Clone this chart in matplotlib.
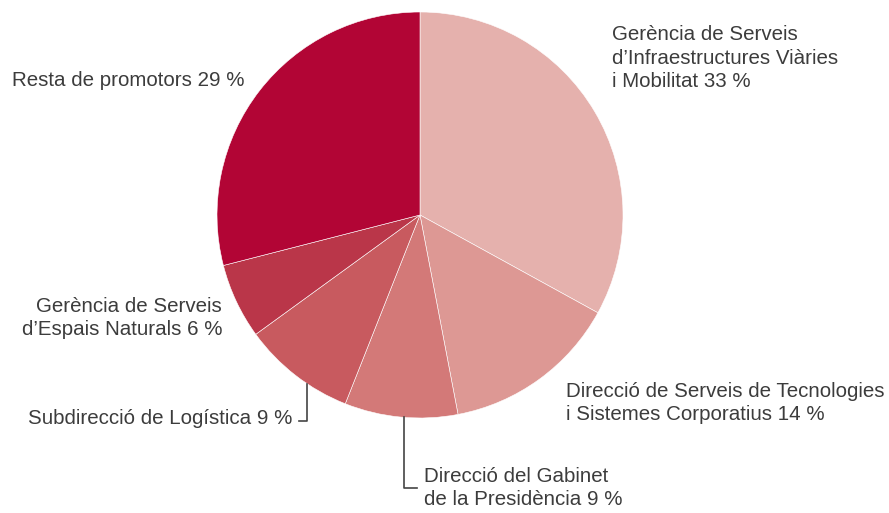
import matplotlib.pyplot as plt

# Data
labels = [
    "Gerència de Serveis\nd\u2019Infraestructures Viàries\ni Mobilitat 33 %",
    "Direcció de Serveis de Tecnologies\ni Sistemes Corporatius 14 %",
    "Direcció del Gabinet\nde la Presidència 9 %",
    "Subdirecció de Logística 9 %",
    "Gerència de Serveis\nd\u2019Espais Naturals 6 %",
    "Resta de promotors 29 %",
]
values = [33, 14, 9, 9, 6, 29]
colors = ["#E5B1AD", "#DD9894", "#D37978", "#C85A5F", "#BA3649", "#B20535"]

W, H = 889, 513
fig = plt.figure(figsize=(W / 100, H / 100), dpi=100)
ax = fig.add_axes([0, 0, 1, 1])

cx, cy, r = 420, H - 215, 203
ax.pie(values, colors=colors, startangle=90, counterclock=False,
       center=(cx, cy), radius=r, frame=True,
       wedgeprops=dict(edgecolor="white", linewidth=0.4))
ax.set_xlim(0, W)
ax.set_ylim(0, H)
ax.set_aspect("equal")
ax.axis("off")

tc = "#3c3c3c"
fs = 14.8
kw = dict(fontsize=fs, color=tc, family="Liberation Sans", linespacing=1.3)

def y(p):
    return H - p

ax.text(612, y(58), labels[0], ha="left", va="center", **kw)
ax.text(566, y(403), labels[1], ha="left", va="center", **kw)
ax.text(424, y(488), labels[2], ha="left", va="center", **kw)
ax.text(292, y(419), labels[3], ha="right", va="center", **kw)
ax.text(222, y(318), labels[4], ha="right", va="center", multialignment="right", **kw)
ax.text(12, y(81), labels[5], ha="left", va="center", **kw)

# leader lines
lc = "#444444"
ax.plot([307, 307, 299], [y(384), y(421), y(421)], color=lc, lw=1.2)
ax.plot([404, 404, 417], [y(417), y(488), y(488)], color=lc, lw=1.2)

fig.savefig("out.png", dpi=100)
